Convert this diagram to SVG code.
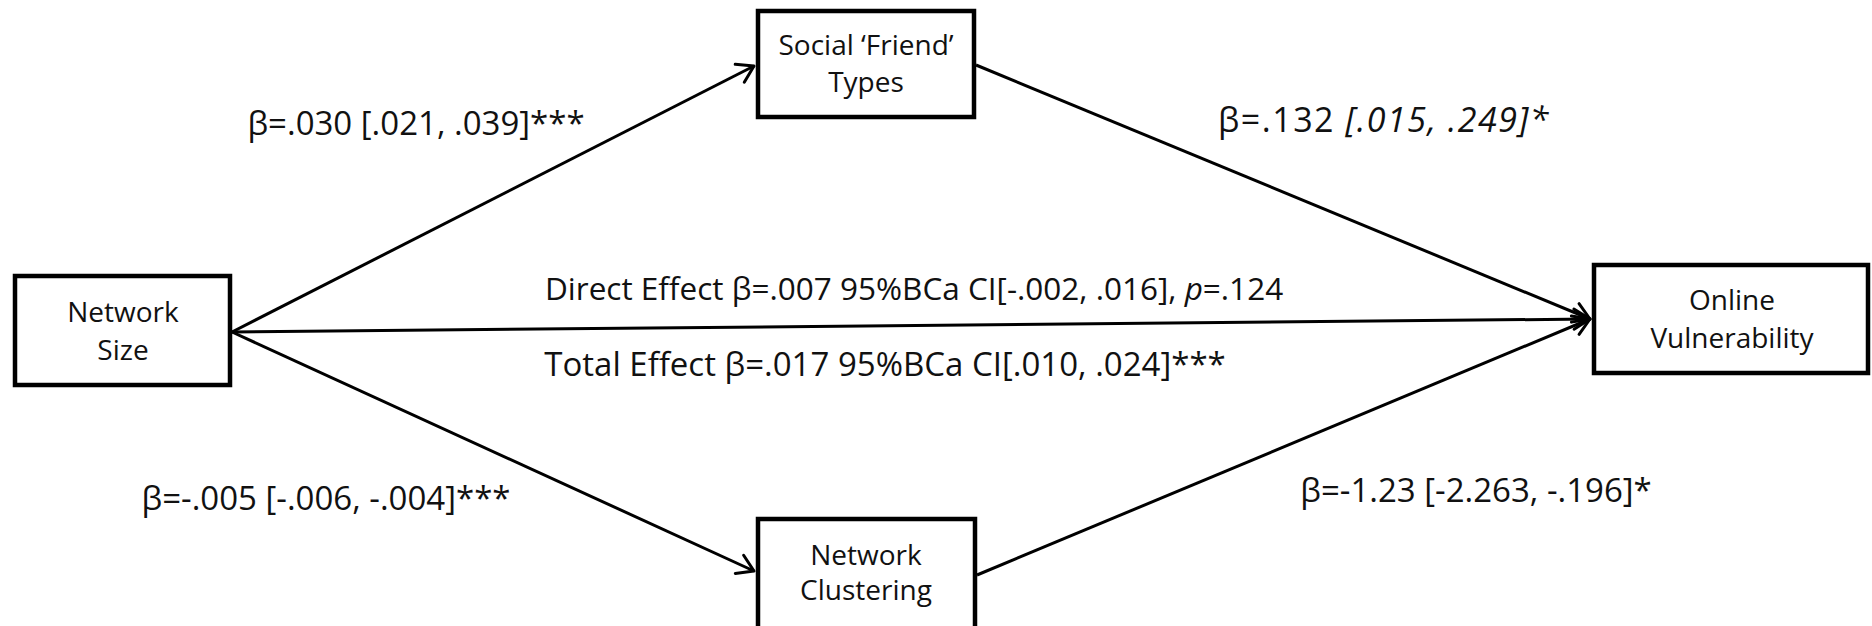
<svg xmlns="http://www.w3.org/2000/svg" width="1872" height="626" viewBox="0 0 1872 626">
<style>
.box{fill:#fff;stroke:#000;stroke-width:4.5}
.nt{font-family:"Open Sans","Noto Sans",sans-serif;font-size:28px;fill:#111;text-anchor:middle}
.lb{font-family:"Open Sans","Noto Sans",sans-serif;font-size:33px;fill:#111;text-anchor:middle}
.st{text-anchor:start}
.it{font-style:italic}
.cn{stroke:#000;stroke-width:3;fill:none;marker-end:url(#ah)}
</style>
<defs>
<marker id="ah" markerUnits="userSpaceOnUse" markerWidth="40" markerHeight="40" refX="0" refY="0" viewBox="-20 -20 40 40" orient="auto" overflow="visible">
<path d="M-16,-10 L0,0 L-16,10" fill="none" stroke="#000" stroke-width="3" stroke-linejoin="round" stroke-linecap="round"/>
</marker>
</defs>
<g id="connectors">
<line class="cn" x1="232" y1="332" x2="754" y2="66"/>
<line class="cn" x1="976" y1="65" x2="1590" y2="319"/>
<line class="cn" x1="232" y1="332" x2="1590" y2="319"/>
<line class="cn" x1="232" y1="332" x2="754" y2="571"/>
<line class="cn" x1="977" y1="575" x2="1590" y2="319"/>
</g>
<g id="network-size">
<rect class="box" x="15" y="276" width="215" height="109"/>
<text class="nt" x="123" y="322">Network</text>
<text class="nt" x="123" y="360">Size</text>
</g>
<g id="social-friend-types">
<rect class="box" x="758" y="11" width="216" height="106"/>
<text class="nt" x="866" y="55">Social ‘Friend’</text>
<text class="nt" x="866" y="92">Types</text>
</g>
<g id="network-clustering">
<rect class="box" x="758" y="519" width="217" height="130"/>
<text class="nt" x="866" y="565">Network</text>
<text class="nt" x="866" y="600">Clustering</text>
</g>
<g id="online-vulnerability">
<rect class="box" x="1594" y="265" width="274" height="108"/>
<text class="nt" x="1732" y="310">Online</text>
<text class="nt" x="1732" y="348">Vulnerability</text>
</g>
<g id="labels">
<text class="lb" x="416" y="135">β=.030 [.021, .039]***</text>
<text class="lb st" x="1218" y="132" style="font-size:34px;letter-spacing:1.5px">β=.132 <tspan class="it">[.015, .249]*</tspan></text>
<text class="lb st" x="545" y="300" style="font-size:31.5px">Direct Effect β=.007 95%BCa CI[-.002, .016], <tspan class="it">p</tspan>=.124</text>
<text class="lb" x="885" y="376">Total Effect β=.017 95%BCa CI[.010, .024]***</text>
<text class="lb" x="326" y="510">β=-.005 [-.006, -.004]***</text>
<text class="lb" x="1476" y="502">β=-1.23 [-2.263, -.196]*</text>
</g>
</svg>
